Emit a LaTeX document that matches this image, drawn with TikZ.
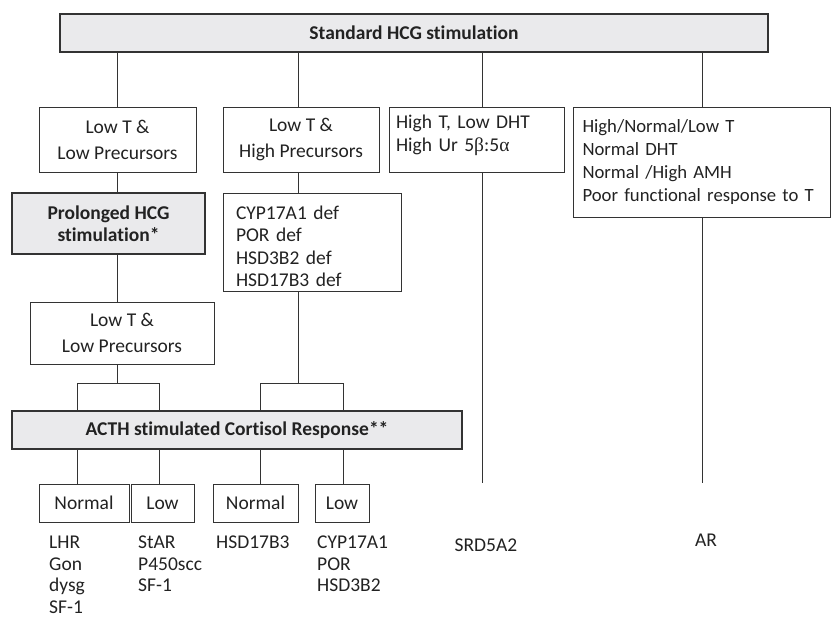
\documentclass[tikz,border=0pt]{standalone}
\usepackage{fontspec}
\setmainfont{Carlito}[Ligatures=NoCommon]
\newfontfamily\grk{Liberation Serif}
\definecolor{linec}{HTML}{333333}
\definecolor{barfill}{HTML}{EAEAEC}
\definecolor{txtc}{HTML}{222222}
\tikzset{
    box/.style={draw=linec, line width=1pt, inner sep=0pt, text=txtc, align=center,
        font=\fontsize{19.5}{26}\selectfont},
    bar/.style={box, fill=barfill, line width=1.3pt, font=\fontsize{19.5}{22}\selectfont\bfseries},
    lbox/.style={box, align=left, font=\fontsize{19.5}{22.5}\selectfont},
    lbl/.style={text=txtc, inner sep=0pt, anchor=north west, align=left,
        font=\fontsize{19.5}{21.5}\selectfont},
    wire/.style={draw=linec, line width=1pt}
}
\begin{document}
\begin{tikzpicture}[x=1pt, y=-1pt]
        \useasboundingbox (0, 0) rectangle (832, 618);
        % Columns of the vertical lines
        \coordinate (c1) at (117, 0);
        \coordinate (c2) at (298, 0);
        \coordinate (c3) at (482, 0);
        \coordinate (c4) at (702, 0);

        % Top bar
        \node[bar, minimum width=708pt, minimum height=38pt] (std) at (414, 33) {Standard HCG stimulation};

        % First row of outcomes
        \node[box, minimum width=157pt, minimum height=65pt] (lowlow) at (117.5, 139.5) {Low T \&\\Low Precursors};
        \node[box, minimum width=156pt, minimum height=65pt] (lowhigh) at (301, 139.5) {Low T \&\\High Precursors};
        \node[lbox, minimum height=65pt, text width=161pt, inner xsep=7pt] (hight) at (476.5, 139.5)
            {High T, Low DHT\\High Ur 5{\grk β}:5{\grk α}\rule[-13pt]{0pt}{1pt}};
        \node[lbox, minimum height=110pt, text width=238pt, inner xsep=9.5pt, font=\fontsize{18.7}{23.2}\selectfont] (anyt) at (701.5, 162)
            {High/Normal/Low T\\Normal DHT\\Normal /High AMH\\Poor functional response to T};
        \foreach \n/\c in {lowlow/c1, lowhigh/c2, hight/c3, anyt/c4}
        \draw[wire] (std.south -| \c) -- (\n.north -| \c);

        % Left branch
        \node[bar, minimum width=193pt, minimum height=61pt] (prolong) at (108.5, 223.5) {Prolonged HCG\\stimulation*};
        \node[box, minimum width=184pt, minimum height=62pt] (lowlow2) at (122, 333) {Low T \&\\Low Precursors};
        \draw[wire] (lowlow.south -| c1) -- (prolong.north -| c1);
        \draw[wire] (prolong.south -| c1) -- (lowlow2.north -| c1);

        % Middle branch
        \node[lbox, minimum height=98pt, text width=152pt, inner xsep=13pt] (defs) at (312, 242)
            {\rule{0pt}{22pt}CYP17A1 def\\POR def\\HSD3B2 def\\HSD17B3 def};
        \draw[wire] (lowhigh.south -| c2) -- (defs.north -| c2);

        % ACTH bar with the two brackets
        \node[bar, minimum width=450pt, minimum height=38pt] (acth) at (237, 430) {ACTH stimulated Cortisol Response**};
        \coordinate (brl) at (77, 383);
        \coordinate (brr) at (159, 383);
        \coordinate (bml) at (260, 383);
        \coordinate (bmr) at (343, 383);
        \draw[wire] (lowlow2.south -| c1) -- (brl -| c1);
        \draw[wire] (defs.south -| c2) -- (bml -| c2);
        \draw[wire] (acth.north -| brl) -- (brl) -- (brr) -- (acth.north -| brr);
        \draw[wire] (acth.north -| bml) -- (bml) -- (bmr) -- (acth.north -| bmr);

        % Cortisol responses
        \foreach \n/\x/\w/\t in {nrm1/84/90/Normal, low1/162.5/63/Low, nrm2/255.5/85/Normal, low2/342/54/Low}
        \node[box, minimum width=\w pt, minimum height=38pt] (\n) at (\x, 503) {\t};
        \foreach \n/\b in {nrm1/brl, low1/brr, nrm2/bml, low2/bmr}
        \draw[wire] (acth.south -| \b) -- (\n.north -| \b);

        % Genes
        \node[lbl] (genA) at (49, 536) {LHR\\Gon\\dysg\\SF-1};
        \node[lbl] (genB) at (138, 536) {StAR\\P450scc\\SF-1};
        \node[lbl] (genC) at (216, 536) {HSD17B3};
        \node[lbl] (genD) at (317, 536) {CYP17A1\\POR\\HSD3B2};

        % Right branches run down to their genes
        \coordinate (e3) at (482, 483);
        \coordinate (e4) at (702, 483);
        \draw[wire] (hight.south -| c3) -- (e3);
        \draw[wire] (anyt.south -| c4) -- (e4);
        \node[text=txtc, font=\fontsize{19.5}{22}\selectfont] (srd) at (486, 545) {SRD5A2};
        \node[text=txtc, font=\fontsize{19.5}{22}\selectfont] (ar) at (706, 540) {AR};
    \end{tikzpicture}
\end{document}
